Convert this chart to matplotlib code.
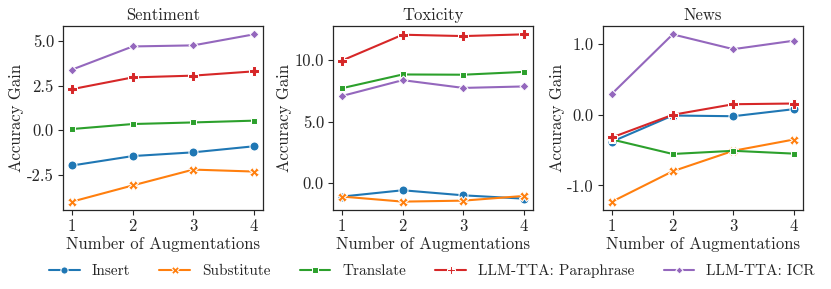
import matplotlib
matplotlib.use("Agg")
import matplotlib.pyplot as plt
import seaborn as sns

x = [1, 2, 3, 4]
series = ["Insert", "Substitute", "Translate", "LLM-TTA: Paraphrase", "LLM-TTA: ICR"]
titles = ["Sentiment", "Toxicity", "News"]

sentiment = {
    "Insert": [-1.99, -1.46, -1.25, -0.91],
    "Substitute": [-4.02, -3.11, -2.22, -2.33],
    "Translate": [0.06, 0.34, 0.43, 0.53],
    "LLM-TTA: Paraphrase": [2.30, 2.96, 3.06, 3.30],
    "LLM-TTA: ICR": [3.40, 4.70, 4.76, 5.38],
}
toxicity = {
    "Insert": [-1.08, -0.57, -0.98, -1.25],
    "Substitute": [-1.08, -1.49, -1.41, -1.03],
    "Translate": [7.70, 8.81, 8.79, 9.02],
    "LLM-TTA: Paraphrase": [9.94, 12.03, 11.92, 12.06],
    "LLM-TTA: ICR": [7.07, 8.35, 7.72, 7.84],
}
news = {
    "Insert": [-0.38, -0.01, -0.02, 0.08],
    "Substitute": [-1.23, -0.80, -0.51, -0.35],
    "Translate": [-0.35, -0.555, -0.51, -0.55],
    "LLM-TTA: Paraphrase": [-0.32, 0.0, 0.15, 0.16],
    "LLM-TTA: ICR": [0.30, 1.14, 0.93, 1.05],
}
datasets = [sentiment, toxicity, news]
yticks = [[-2.5, 0.0, 2.5, 5.0], [0.0, 5.0, 10.0], [-1.0, 0.0, 1.0]]

sns.set_theme(style="ticks")
plt.rcParams["font.family"] = ["cmr10"]
plt.rcParams["axes.unicode_minus"] = False
plt.rcParams["mathtext.fontset"] = "cm"

colors = sns.color_palette("tab10")[:5]
markers = ["o", "X", (4, 0, 45), "P", (4, 0, 0)]

fig = plt.figure(figsize=(8.31, 2.89), dpi=100)
lefts = [0.0758, 0.4007, 0.7256]
axes = [fig.add_axes([l, 0.2734, 0.2407, 0.6367]) for l in lefts]

for ax, data, title, yt in zip(axes, datasets, titles, yticks):
    for s, c, m in zip(series, colors, markers):
        ax.plot(x, data[s], color=c, marker=m, markersize=6.5, lw=1.5,
                markeredgecolor="w", markeredgewidth=0.75, label=s)
    ax.set_title(title, fontsize=12, pad=4)
    ax.set_xticks(x)
    ax.set_xticklabels([str(v) for v in x])
    ax.set_yticks(yt)
    ax.set_yticklabels([f"{v:.1f}" for v in yt])
    ax.tick_params(labelsize=12, length=3.5, width=0.8, pad=3)
    ax.set_xlabel("Number of Augmentations", fontsize=12, labelpad=1)
    ax.set_ylabel("Accuracy Gain", fontsize=12, labelpad=2)
    for sp in ax.spines.values():
        sp.set_visible(True)
        sp.set_linewidth(0.9)

handles, labels = axes[0].get_legend_handles_labels()
fig.legend(handles, labels, loc="center", bbox_to_anchor=(0.52, 0.062), ncol=5,
           frameon=False, fontsize=11, handlelength=2.0, columnspacing=1.9,
           handletextpad=0.8, markerscale=0.8)

fig.savefig("out.png", dpi=100)
